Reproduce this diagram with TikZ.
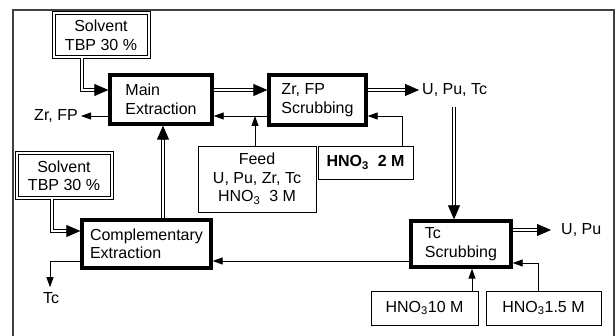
\documentclass[tikz,border=0pt]{standalone}
\usepackage{fontspec}
\setmainfont{Liberation Sans}
\usetikzlibrary{arrows.meta,calc}
\begin{document}
\begin{tikzpicture}[x=1pt,y=-1pt,
  font=\fontsize{16}{18.5}\selectfont,
  unitbox/.style={draw, line width=3.3pt, align=left, inner sep=0pt},
  thinbox/.style={draw, line width=0.8pt, align=center, inner sep=0pt},
  solbox/.style={draw, double, double distance=2pt, line width=1pt, align=center, inner sep=0pt},
  dbl/.style={draw, double=white, double distance=2pt, line width=1pt},
  thinarrow/.style={line width=0.8pt, -{Triangle[length=10pt,width=7pt]}},
  dtip/.style={line width=0.8pt, -{Triangle[length=14pt,width=12pt]}},
  lbl/.style={inner sep=3pt}
]
\useasboundingbox (0,0) rectangle (616,336);
\clip (0,0) rectangle (616,336);
\draw[line width=1.2pt, black!75] (13,10) rectangle (614,350);

% boxes
\node[unitbox, minimum width=102pt, minimum height=49pt] (main) at (161,99.5) {Main\\Extraction};
\node[unitbox, minimum width=97pt, minimum height=50pt] (zrs) at (317.5,100) {Zr, FP\\Scrubbing};
\node[unitbox, minimum width=129pt, minimum height=48pt] (comp) at (146.5,244) {Complementary\\Extraction};
\node[unitbox, minimum width=100pt, minimum height=46pt] (tcs) at (461,244) {Tc\\Scrubbing};
\node[solbox, minimum width=95pt, minimum height=44pt] (sol1) at (101,35.5) {Solvent\\TBP 30 \%};
\node[solbox, minimum width=95pt, minimum height=45pt] (sol2) at (64,176) {Solvent\\TBP 30 \%};
\node[thinbox, minimum width=118pt, minimum height=66pt] (feed) at (257,179) {Feed\\U, Pu, Zr, Tc\\HNO\textsubscript{3}\ \ 3 M};
\node[thinbox, minimum width=95pt, minimum height=33pt] (hno2) at (365.5,162.5) {\textbf{HNO\textsubscript{3}\ \ 2 M}};
\node[thinbox, minimum width=107pt, minimum height=34pt] (hno10) at (424.5,308) {HNO\textsubscript{3}10 M};
\node[thinbox, minimum width=115pt, minimum height=34pt] (hno15) at (543.5,308) {HNO\textsubscript{3}1.5 M};

% text labels
\node[lbl, anchor=east] (zrfp) at (81,116) {Zr, FP};
\node[lbl, anchor=west] (uputc) at (419,90) {U, Pu, Tc};
\node[inner ysep=3pt, inner xsep=10pt, anchor=west] (upu) at (551,230) {U, Pu};
\node[lbl] (tc) at (51,298) {Tc};
\coordinate (fj) at (255,116);
\coordinate (upt) at (454,107);

% 1 solvent -> main
\draw[dbl, shorten >=12pt] ([xshift=-19pt]sol1.south) |- ([yshift=9.5pt]main.west);
\draw[dtip] ([xshift=-14pt,yshift=9.5pt]main.west) -- ([yshift=9.5pt]main.west);
% 2 main -> zr scrubbing
\draw[dbl, shorten >=12pt] ([yshift=9.5pt]main.east) -- ([yshift=10pt]zrs.west);
\draw[dtip] ([xshift=-14pt,yshift=10pt]zrs.west) -- ([yshift=10pt]zrs.west);
% 3 zr scrubbing -> U, Pu, Tc
\draw[dbl, shorten >=12pt] ([yshift=10pt]zrs.east) -- (uputc.west);
\draw[dtip] ([xshift=-14pt]uputc.west) -- (uputc.west);
% 4 main -> Zr, FP
\draw[thinarrow] ([yshift=-16.5pt]main.west) -- (zrfp.east);
% 5 zr scrubbing -> main
\draw[thinarrow] ([yshift=-16pt]zrs.west) -- ([yshift=-16.5pt]main.east);
% 6 feed
\draw[thinarrow] ([xshift=-2pt]feed.north) -- (fj);
% 7 HNO3 2 M -> zr scrubbing
\draw[thinarrow] ([xshift=36.5pt]hno2.north) |- ([yshift=-16pt]zrs.east);
% 8 comp -> main
\draw[dbl, shorten >=12pt] ([xshift=16.5pt]comp.north) -- ([xshift=2pt]main.south);
\draw[dtip] ([xshift=2pt,yshift=-14pt]main.south) -- ([xshift=2pt]main.south);
% 9 solvent 2 -> comp
\draw[dbl, shorten >=12pt] ([xshift=-12pt]sol2.south) |- ([yshift=13pt]comp.west);
\draw[dtip] ([xshift=-14pt,yshift=13pt]comp.west) -- ([yshift=13pt]comp.west);
% 10 comp -> Tc
\draw[thinarrow, shorten >=2pt] ([yshift=-17pt]comp.west) -| ([xshift=-1pt]tc.north);
% 11 tc scrubbing -> comp
\draw[thinarrow] ([yshift=-17pt]tcs.west) -- ([yshift=-17pt]comp.east);
% 12 U,Pu,Tc -> tc scrubbing
\draw[dbl, shorten >=12pt] (upt) -- ([xshift=-7pt]tcs.north);
\draw[dtip] ([xshift=-7pt,yshift=14pt]tcs.north) -- ([xshift=-7pt]tcs.north);
% 13 tc scrubbing -> U, Pu
\draw[dbl, shorten >=12pt] ([yshift=14pt]tcs.east) -- (upu.west);
\draw[dtip] ([xshift=-14pt]upu.west) -- (upu.west);
% 14 HNO3 10 M -> tc scrubbing
\draw[thinarrow] ([xshift=47.5pt]hno10.north) -- ([xshift=47.5pt]hno10.north |- tcs.south);
% 15 HNO3 1.5 M -> tc scrubbing
\draw[thinarrow] ([xshift=-5.5pt]hno15.north) |- ([yshift=-19pt]tcs.east);
\end{tikzpicture}
\end{document}
